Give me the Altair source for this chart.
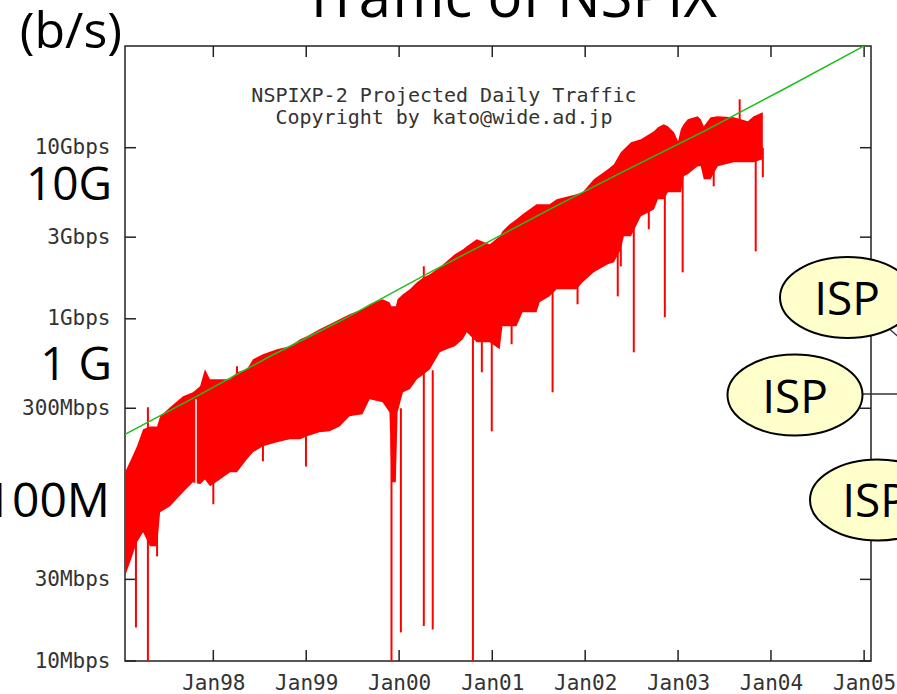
import altair as alt
import pandas as pd

# ---------------- data (Mbps) ----------------
band_dates = [
    "1997-01-19", "1997-02-12", "1997-03-07", "1997-03-31", "1997-04-27", "1997-05-25", "1997-06-06",
    "1997-07-15", "1997-09-04", "1997-10-13", "1997-11-10", "1997-11-29", "1997-12-19",
    "1998-01-27", "1998-03-08", "1998-04-04", "1998-05-13", "1998-06-06", "1998-07-15", "1998-09-08",
    "1998-10-29", "1998-12-08",
    "1999-01-04", "1999-02-22", "1999-04-03", "1999-05-12", "1999-06-20", "1999-08-10", "1999-09-07",
    "1999-10-28", "1999-11-24", "1999-12-02", "1999-12-19", "1999-12-26",
    "2000-01-16", "2000-02-12", "2000-03-11", "2000-04-07", "2000-05-01", "2000-06-09", "2000-07-06",
    "2000-08-07", "2000-09-07", "2000-09-23", "2000-11-01", "2000-12-22",
    "2001-01-30", "2001-02-10", "2001-03-10", "2001-04-06", "2001-04-30", "2001-06-24", "2001-07-06",
    "2001-08-14", "2001-09-11", "2001-11-28", "2001-12-22",
    "2002-02-04", "2002-03-31", "2002-04-24", "2002-05-21", "2002-06-02", "2002-06-30", "2002-08-08",
    "2002-09-28", "2002-10-14", "2002-11-06", "2002-11-22", "2002-12-16",
    "2003-01-01", "2003-01-12", "2003-01-23", "2003-02-08", "2003-03-19", "2003-03-31", "2003-04-12",
    "2003-05-09", "2003-06-06", "2003-08-08", "2003-10-02", "2003-10-25", "2003-11-30",
]
band_upper = [
    127, 151, 180, 226, 235, 235, 269, 304, 353, 372, 404, 507, 444,
    444, 444, 487, 507, 580, 620, 664, 691, 759,
    790, 869, 929, 993, 1062, 1136, 1216, 1300, 1248, 1183, 1183, 1300,
    1391, 1486, 1633, 1748, 1819, 2000, 2168, 2383, 2545, 2652, 2914, 2725,
    3034, 3246, 3565, 3814, 4081, 4669, 4669, 4669, 4992, 5340, 5487,
    6534, 7478, 7998, 9398, 9788, 10760, 11200, 12470, 13157, 13700, 13330, 12300,
    10900, 12800, 13700, 14660, 15260, 14660, 13330, 15060, 15260, 15060, 14270, 15260, 16110,
]
band_lower = [
    31.3, 39.3, 49.4, 56.5, 46.8, 46.8, 74.0, 80.2, 96.8, 111, 108, 115, 105,
    115, 127, 127, 151, 166, 180, 190, 198, 198,
    206, 217, 220, 235, 269, 277, 339, 325, 284, 111, 111, 284,
    372, 387, 444, 474, 507, 637, 664, 691, 759, 834, 730, 730,
    664, 904, 904, 904, 1092, 1092, 1248, 1353, 1486, 1486, 1633,
    1868, 2083, 2138, 2545, 3034, 3034, 3970, 4360, 4992, 4992, 5487, 5487,
    5487, 5487, 6805, 6990, 7785, 7785, 6534, 6534, 7785, 8221, 8221, 8221, 8553,
]

spike_dates = [
    "1997-03-03", "1997-04-19", "1997-05-25", "1998-01-01", "1998-04-04", "1998-07-15", "1998-12-31",
    "1999-12-02", "2000-01-08", "2000-04-07", "2000-05-12", "2000-10-17", "2000-11-21", "2000-12-30",
    "2001-03-18", "2001-08-26", "2001-12-02", "2002-05-09", "2002-05-21", "2002-07-11", "2002-09-08",
    "2002-11-10", "2003-01-19", "2003-05-21", "2003-08-31", "2003-11-02", "2003-11-30",
]
spike_low = [15.7, 9, 40.9, 82.4, 300, 147, 137, 9, 14.7, 16.0, 15.3, 9, 487, 220,
             710, 372, 1216, 1353, 2025, 637, 3336, 1021, 1868, 5946, 12000, 2479, 6712]
spike_high = [50, 304, 60, 150, 528, 250, 250, 200, 300, 2025, 500, 800, 1000, 1000,
              1500, 2000, 2000, 3000, 3000, 4000, 5000, 6000, 8000, 9000, 19190, 10000, 10000]

gap_dates = ["1997-10-25"]
gap_low = [108]
gap_high = [339]

trend_dates = ["1997-01-19", "1997-10-29", "1998-08-12", "1999-05-12", "2000-05-01", "2000-11-13",
               "2001-08-14", "2002-05-09", "2003-04-12", "2004-02-20", "2005-01-05"]
trend_values = [211, 353, 604, 967, 1868, 2652, 4360, 6990, 12470, 21950, 39630]

year_ticks = ["1998-01-01", "1999-01-01", "2000-01-01", "2001-01-01",
              "2002-01-01", "2003-01-01", "2004-01-01", "2005-01-01"]
y_tick_values = [10, 30, 100, 300, 1000, 3000, 10000]
y_label_values = [10, 30, 300, 1000, 3000, 10000]

# ---------------- tables ----------------
band = pd.DataFrame({"date": band_dates, "hi": band_upper, "lo": band_lower})
spikes = pd.DataFrame({"date": spike_dates, "lo": spike_low, "hi": spike_high})
gap = pd.DataFrame({"date": gap_dates, "lo": gap_low, "hi": gap_high})
trend = pd.DataFrame({"date": trend_dates, "v": trend_values})
xt = pd.DataFrame({"date": year_ticks})
yt = pd.DataFrame({"v": y_tick_values})
one = pd.DataFrame({"k": [0]})

W, H = 746, 615
MONO = "DejaVu Sans Mono"
BIG = "Open Sans"
FRAME = "#222222"
LBL = 21

xscale = alt.Scale(type="utc", domain=[alt.DateTime(year=1997, month=1, date=19, utc=True),
                                       alt.DateTime(year=2005, month=1, date=28, utc=True)])
yscale = alt.Scale(type="log", domain=[10, 39300])

xaxis = alt.Axis(values=[alt.DateTime(year=y, month=1, date=1, utc=True) for y in range(1998, 2006)],
                 format="%b%y", title=None, ticks=False, domain=False, grid=False,
                 labelFont=MONO, labelFontSize=LBL, labelColor="#333333", labelPadding=11,
                 labelFlush=False, labelOverlap=False)
yaxis = alt.Axis(values=y_label_values, title=None, ticks=False, domain=False, grid=False,
                 labelExpr="datum.value >= 1000 ? (datum.value / 1000) + 'Gbps' : datum.value + 'Mbps'",
                 labelFont=MONO, labelFontSize=LBL, labelColor="#333333", labelPadding=15,
                 labelOverlap=False)


def X(field="date"):
    return alt.X(f"{field}:T", scale=xscale, axis=xaxis)


def Y(field):
    return alt.Y(f"{field}:Q", scale=yscale, axis=yaxis)


# ticks pointing inward (gnuplot style)
tick_bottom = alt.Chart(xt).mark_rule(color=FRAME, strokeWidth=1.5).encode(
    x=X(), y=alt.value(H), y2=alt.value(H - 11))
tick_top = alt.Chart(xt).mark_rule(color=FRAME, strokeWidth=1.5).encode(
    x=X(), y=alt.value(0), y2=alt.value(11))
tick_left = alt.Chart(yt).mark_rule(color=FRAME, strokeWidth=1.5).encode(
    y=Y("v"), x=alt.value(0), x2=alt.value(11))
tick_right = alt.Chart(yt).mark_rule(color=FRAME, strokeWidth=1.5).encode(
    y=Y("v"), x=alt.value(W), x2=alt.value(W - 11))

area = alt.Chart(band).mark_area(color="#ff0000", interpolate="linear", clip=True, opacity=1).encode(
    x=X(), y=Y("lo"), y2="hi:Q")
spike = alt.Chart(spikes).mark_rule(color="#ff0000", strokeWidth=2, clip=True).encode(
    x=X(), y=Y("lo"), y2="hi:Q")
white_gap = alt.Chart(gap).mark_rule(color="#ffffff", strokeWidth=1.5, clip=True).encode(
    x=X(), y=Y("lo"), y2="hi:Q")
trend_line = alt.Chart(trend).mark_line(color="#1fbf1f", strokeWidth=1.5, clip=True).encode(
    x=X(), y=Y("v"))


def txt(text, x, y, size, font, align="center", baseline="alphabetic", color="#000000"):
    return alt.Chart(one).mark_text(text=text, font=font, fontSize=size, align=align,
                                    baseline=baseline, color=color).encode(
        x=alt.value(x), y=alt.value(y))


note1 = txt("NSPIXP-2 Projected Daily Traffic", 319, 50, 20, MONO, baseline="middle", color="#333333")
note2 = txt("Copyright by kato@wide.ad.jp", 319, 72, 20, MONO, baseline="middle", color="#333333")

title = txt("Traffic of NSPIX", 385, -29, 58, BIG)
unit = txt("(b/s)", -3, 2, 50, BIG, align="right")
g10 = txt("10G", -13, 154, 46, BIG, align="right")
g1 = txt("1 G", -13, 334, 46, BIG, align="right")
m100 = txt("100M", -15, 471, 48, BIG, align="right")

line_h = alt.Chart(one).mark_rule(color="#333333", strokeWidth=1.5).encode(
    x=alt.value(730), x2=alt.value(780), y=alt.value(348), y2=alt.value(348))
line_d = alt.Chart(one).mark_rule(color="#333333", strokeWidth=1.5).encode(
    x=alt.value(745), x2=alt.value(785), y=alt.value(266), y2=alt.value(301))

ELLIPSE = ("M 1 0 C 1 0.3314 0.5523 0.6 0 0.6 C -0.5523 0.6 -1 0.3314 -1 0 "
           "C -1 -0.3314 -0.5523 -0.6 0 -0.6 C 0.5523 -0.6 1 -0.3314 1 0 Z")


def ellipse(cx, cy):
    return alt.Chart(one).mark_point(shape=ELLIPSE, size=18225, filled=True, fill="#ffffcc",
                                     stroke="#000000", strokeWidth=2, opacity=1).encode(
        x=alt.value(cx), y=alt.value(cy))


e1 = ellipse(722.5, 251.5)
e2 = ellipse(670, 349)
e3 = ellipse(752.5, 454)
t1 = txt("ISP", 722, 269, 46, BIG)
t2 = txt("ISP", 670, 367, 46, BIG)
t3 = txt("ISP", 750, 471, 46, BIG)

chart = alt.layer(
    tick_bottom, tick_top, tick_left, tick_right,
    area, spike, white_gap, trend_line,
    note1, note2, title, unit, g10, g1, m100,
    line_h, line_d, e1, e2, e3, t1, t2, t3,
).properties(
    width=W, height=H,
    padding={"left": 125, "top": 46, "right": 26, "bottom": 33},
    autosize=alt.AutoSizeParams(type="none"),
    background="white",
).configure_view(stroke=FRAME, strokeWidth=1.5)

chart.save("out.html", embed_options={"renderer": "svg", "actions": False})
